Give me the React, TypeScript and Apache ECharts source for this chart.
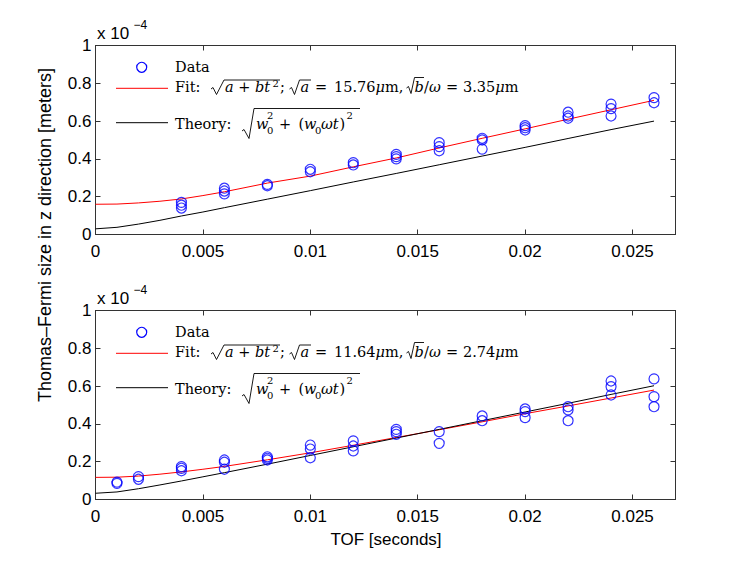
import React, { useEffect, useRef } from "react";
import * as echarts from "echarts";

// ---------- data (sizes in units of 1e-4 m, times in seconds) ----------
const topTimes = [0.004, 0.006, 0.008, 0.01, 0.012, 0.014, 0.016, 0.018, 0.02, 0.022, 0.024, 0.026];
const topData = [
  [0.17, 0.155, 0.14],
  [0.245, 0.23, 0.215],
  [0.265, 0.258],
  [0.345, 0.332],
  [0.38, 0.368],
  [0.424, 0.412, 0.4],
  [0.486, 0.465, 0.443],
  [0.509, 0.5, 0.452],
  [0.576, 0.565, 0.553],
  [0.647, 0.627, 0.615],
  [0.69, 0.666, 0.627],
  [0.724, 0.697],
];
const bottomTimes = [0.001, 0.002, 0.004, 0.006, 0.008, 0.01, 0.012, 0.014, 0.016, 0.018, 0.02, 0.022, 0.024, 0.026];
const bottomData = [
  [0.092, 0.085],
  [0.121, 0.107],
  [0.174, 0.165, 0.152],
  [0.209, 0.197, 0.16],
  [0.226, 0.218, 0.209],
  [0.288, 0.267, 0.221],
  [0.31, 0.283, 0.257],
  [0.371, 0.359, 0.345],
  [0.359, 0.297],
  [0.442, 0.417],
  [0.479, 0.465, 0.433],
  [0.491, 0.474, 0.417],
  [0.627, 0.597, 0.553],
  [0.638, 0.544, 0.491],
];
const curveTimes = [0, 0.001, 0.002, 0.003, 0.004, 0.005, 0.006, 0.008, 0.01, 0.012, 0.014, 0.016, 0.018, 0.02, 0.022, 0.024, 0.026];
const topFit = [0.16, 0.161, 0.167, 0.176, 0.188, 0.206, 0.226, 0.272, 0.309, 0.358, 0.405, 0.458, 0.509, 0.559, 0.61, 0.66, 0.71];
const topTheory = [0.03, 0.038, 0.055, 0.075, 0.098, 0.119, 0.142, 0.187, 0.232, 0.278, 0.323, 0.369, 0.415, 0.461, 0.508, 0.555, 0.6];
const bottomFit = [0.117, 0.118, 0.124, 0.134, 0.146, 0.16, 0.175, 0.21, 0.247, 0.287, 0.328, 0.369, 0.411, 0.454, 0.495, 0.537, 0.579];
const bottomTheory = [0.033, 0.04, 0.057, 0.077, 0.098, 0.12, 0.142, 0.187, 0.233, 0.279, 0.325, 0.371, 0.417, 0.463, 0.509, 0.556, 0.602];
const topFitLabel = { a: "15.76", b: "3.35" };
const bottomFitLabel = { a: "11.64", b: "2.74" };
const xLabel = "TOF [seconds]";
const yLabel = "Thomas\u2013Fermi size in z direction [meters]";

// ---------- styling ----------
const SANS = "Liberation Sans, Arial, sans-serif";
const SERIF = "DejaVu Serif, serif";
const AXIS_COLOR = "#333";
const LS = 14.5; // legend font size

function scatterPoints(times: number[], vals: number[][]) {
  const out: number[][] = [];
  times.forEach((t, i) => vals[i].forEach((v) => out.push([t, v])));
  return out;
}
function pairs(times: number[], vals: number[]) {
  return times.map((t, i) => [t, vals[i]]);
}

function txt(x: number, y: number, text: string, opts: any = {}) {
  return {
    type: "text",
    x,
    y,
    silent: true,
    style: {
      text,
      fontFamily: opts.family || SERIF,
      fontSize: opts.size || LS,
      fontStyle: opts.italic ? "italic" : "normal",
      fill: "#000",
      align: opts.align || "left",
      verticalAlign: "middle",
      rich: {
        i: { fontFamily: opts.family || SERIF, fontSize: opts.size || LS, fontStyle: "italic", fill: "#000" },
      },
    },
    rotation: opts.rotation || 0,
  };
}
function poly(points: number[][], color = "#000") {
  return { type: "polyline", silent: true, shape: { points }, style: { stroke: color, fill: null, lineWidth: 0.9 } };
}
function seg(x1: number, y1: number, x2: number, y2: number, color: string) {
  return { type: "line", silent: true, shape: { x1, y1, x2, y2 }, style: { stroke: color, lineWidth: 1 } };
}

function legend(dy: number, lab: { a: string; b: string }) {
  const r1 = 67.3 + dy;
  const r2 = 87 + dy;
  const r3 = 124 + dy;
  const sh = (pts: number[][]) => pts.map(([x, y]) => [x, y + dy]);
  return [
    { type: "circle", silent: true, shape: { cx: 141.7, cy: r1, r: 5 }, style: { stroke: "#0000ff", fill: "none", lineWidth: 1.2 } },
    txt(175, r1, "Data"),
    seg(116, 88.3 + dy, 168, 88.3 + dy, "#ff0000"),
    txt(175, r2, "Fit:"),
    poly(sh([[211, 89], [213, 87.5], [216.5, 94.5], [224, 80], [280, 80]])),
    txt(225, r2, "{i|a} + {i|bt}"),
    txt(272.5, 83.5 + dy, "2", { size: 10 }),
    txt(280, r2, ";"),
    poly(sh([[289.5, 89], [291.5, 87.5], [294.5, 94.5], [299.5, 80], [311, 80]])),
    txt(300.5, r2, "{i|a}"),
    txt(315, r2, "="),
    txt(334, r2, lab.a + "{i|\u03bc}m,"),
    poly(sh([[406.5, 88], [408.5, 86.5], [411, 93.5], [414.5, 77.5], [424, 77.5]])),
    txt(414.5, r2, "{i|b}"),
    txt(424, r2, "/{i|\u03c9}"),
    txt(446, r2, "="),
    txt(463, r2, lab.b + "{i|\u03bc}m"),
    seg(116, 122.7 + dy, 168, 122.7 + dy, "#000000"),
    txt(175, r3, "Theory:"),
    poly(sh([[242, 131], [244, 129.5], [249, 138.5], [254, 108.5], [360, 108.5]])),
    txt(256, r3, "{i|w}"),
    txt(267, 130 + dy, "0", { size: 10 }),
    txt(267, 115.5 + dy, "2", { size: 10 }),
    txt(279, r3, "+"),
    txt(298.5, r3, "("),
    txt(304, r3, "{i|w}"),
    txt(315, 130 + dy, "0", { size: 10 }),
    txt(321, r3, "{i|\u03c9t}"),
    txt(339.5, r3, ")"),
    txt(346.5, 115.5 + dy, "2", { size: 10 }),
  ];
}

const fmtX = (v: number) => (v > 0.0265 ? "" : v === 0 ? "0" : String(+v.toFixed(3)));
const fmtY = (v: number) => String(+v.toFixed(1));

function axesFor(gridIndex: number) {
  const tick = { show: true, inside: true, length: 5, lineStyle: { color: AXIS_COLOR, width: 1 } };
  const line = { show: true, onZero: false, lineStyle: { color: AXIS_COLOR, width: 1 } };
  const label = { color: "#000", fontFamily: SANS, fontSize: 17 };
  const xBase = { type: "value", gridIndex, min: 0, max: 0.027, interval: 0.005, splitLine: { show: false }, axisLine: line, axisTick: tick };
  const yBase = { type: "value", gridIndex, min: 0, max: 1, interval: 0.2, splitLine: { show: false }, axisLine: line, axisTick: tick };
  return {
    x: [
      { ...xBase, position: "bottom", axisLabel: { ...label, margin: 8, formatter: fmtX } },
      { ...xBase, position: "top", axisLabel: { show: false } },
    ],
    y: [
      { ...yBase, position: "left", axisLabel: { ...label, margin: 4, formatter: fmtY } },
      { ...yBase, position: "right", axisLabel: { show: false } },
    ],
  };
}

export default function App() {
  const ref = useRef<HTMLDivElement>(null);
  useEffect(() => {
    if (!ref.current) return;
    const chart = echarts.init(ref.current, undefined, { renderer: "svg" });
    const a0 = axesFor(0);
    const a1 = axesFor(1);
    const scatterStyle = {
      type: "scatter",
      symbol: "circle",
      symbolSize: 10,
      itemStyle: { color: "rgba(0,0,0,0)", borderColor: "#0000ff", borderWidth: 1.2 },
      z: 3,
    };
    const lineStyle = (color: string) => ({
      type: "line",
      showSymbol: false,
      symbol: "none",
      lineStyle: { color, width: 1 },
      itemStyle: { color },
      z: 2,
    });
    chart.setOption({
      animation: false,
      backgroundColor: "#fff",
      grid: [
        { left: 95.5, top: 45.5, width: 580, height: 189 },
        { left: 95.5, top: 310.5, width: 580, height: 189 },
      ],
      xAxis: [...a0.x, ...a1.x],
      yAxis: [...a0.y, ...a1.y],
      series: [
        { ...scatterStyle, name: "Data top", xAxisIndex: 0, yAxisIndex: 0, data: scatterPoints(topTimes, topData) },
        { ...lineStyle("#ff0000"), name: "Fit top", xAxisIndex: 0, yAxisIndex: 0, data: pairs(curveTimes, topFit) },
        { ...lineStyle("#000000"), name: "Theory top", xAxisIndex: 0, yAxisIndex: 0, data: pairs(curveTimes, topTheory) },
        { ...scatterStyle, name: "Data bottom", xAxisIndex: 2, yAxisIndex: 2, data: scatterPoints(bottomTimes, bottomData) },
        { ...lineStyle("#ff0000"), name: "Fit bottom", xAxisIndex: 2, yAxisIndex: 2, data: pairs(curveTimes, bottomFit) },
        { ...lineStyle("#000000"), name: "Theory bottom", xAxisIndex: 2, yAxisIndex: 2, data: pairs(curveTimes, bottomTheory) },
      ],
      graphic: [
        ...legend(0, topFitLabel),
        ...legend(265, bottomFitLabel),
        txt(97, 33, "x 10", { family: SANS, size: 17 }),
        txt(133.5, 25, "\u22124", { family: SANS, size: 12 }),
        txt(97, 298, "x 10", { family: SANS, size: 17 }),
        txt(133.5, 290, "\u22124", { family: SANS, size: 12 }),
        txt(45, 235, yLabel, { family: SANS, size: 18, align: "center", rotation: Math.PI / 2 }),
        txt(386, 539, xLabel, { family: SANS, size: 17, align: "center" }),
      ],
    });
    return () => chart.dispose();
  }, []);
  return <div ref={ref} style={{ position: "absolute", left: 0, top: 0, width: 747, height: 561 }} />;
}
